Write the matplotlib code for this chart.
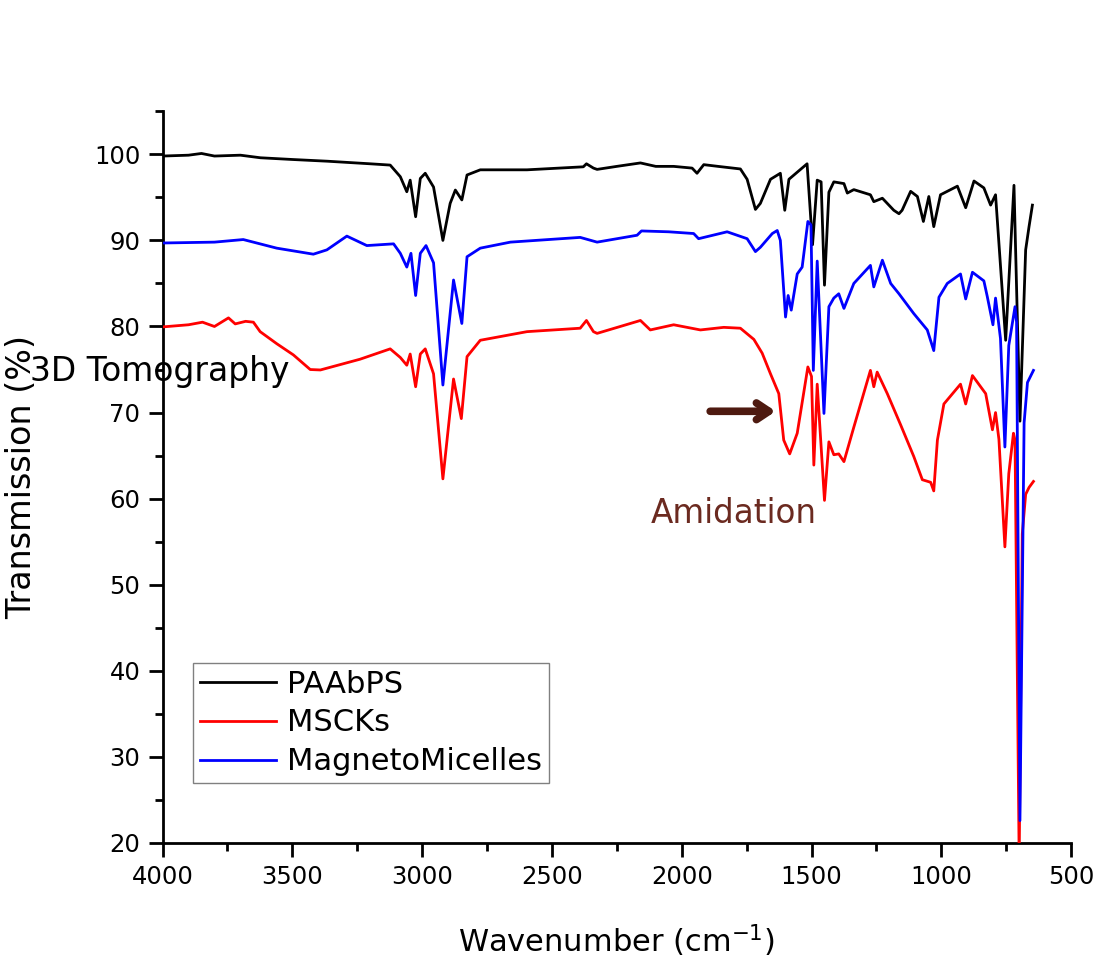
import matplotlib
matplotlib.use("Agg")
import matplotlib.pyplot as plt
from matplotlib.ticker import MultipleLocator

plt.rcParams['font.family'] = ['DejaVu Sans']

# ---- data ----
paabps_x = [4000, 3900, 3850, 3800, 3700, 3623, 3500, 3365, 3200, 3123, 3084, 3059, 3046, 3025,
            3007, 2988, 2956, 2920, 2892, 2872, 2847, 2827, 2776, 2596, 2379, 2367, 2340, 2326,
            2250, 2159, 2100, 2031, 1960, 1941, 1915, 1860, 1774, 1748, 1716, 1697, 1658, 1620,
            1603, 1587, 1517, 1496, 1478, 1463, 1450, 1433, 1414, 1375, 1362, 1337, 1273, 1260,
            1227, 1183, 1163, 1151, 1118, 1092, 1069, 1048, 1029, 1003, 938, 906, 874, 836, 810,
            791, 752, 720, 697, 675, 662, 649]
paabps_y = [99.8, 99.9, 100.1, 99.8, 99.9, 99.6, 99.4, 99.2, 98.9, 98.75, 97.4, 95.65, 97.0, 92.75,
            97.2, 97.8, 96.2, 90.0, 94.3, 95.85, 94.7, 97.6, 98.2, 98.2, 98.55, 98.9, 98.4, 98.25,
            98.6, 99.0, 98.6, 98.6, 98.4, 97.8, 98.8, 98.6, 98.3, 97.1, 93.6, 94.3, 97.1, 97.8,
            93.5, 97.1, 98.9, 89.5, 97.0, 96.8, 84.8, 95.6, 96.8, 96.6, 95.5, 95.9, 95.3, 94.5,
            94.9, 93.5, 93.1, 93.5, 95.7, 95.1, 92.2, 95.1, 91.6, 95.3, 96.3, 93.8, 96.9, 96.1, 94.1,
            95.3, 78.4, 96.4, 69.0, 88.9, 91.6, 94.1]

mscks_x = [4000, 3900, 3846, 3800, 3746, 3720, 3680, 3650, 3624, 3560, 3496, 3431, 3392, 3239,
           3123, 3084, 3059, 3046, 3025, 3007, 2988, 2956, 2920, 2879, 2849, 2827, 2776, 2596,
           2391, 2367, 2340, 2326, 2159, 2121, 2031, 1928, 1838, 1774, 1722, 1690, 1658, 1626,
           1607, 1584, 1555, 1514, 1500, 1491, 1478, 1450, 1433, 1414, 1395, 1375, 1337, 1273,
           1260, 1247, 1208, 1157, 1106, 1073, 1041, 1029, 1015, 990, 926, 906, 880, 829, 803,
           791, 778, 755, 740, 722, 716, 700, 688, 675, 662, 645]
mscks_y = [79.95, 80.2, 80.5, 80.0, 81.0, 80.3, 80.6, 80.5, 79.4, 78.0, 76.7, 75.0, 74.95, 76.2,
           77.4, 76.4, 75.5, 76.8, 73.0, 76.8, 77.4, 74.5, 62.3, 73.9, 69.3, 76.5, 78.4, 79.4,
           79.8, 80.7, 79.4, 79.2, 80.7, 79.6, 80.2, 79.6, 79.9, 79.8, 78.5, 76.9, 74.5, 72.2,
           66.8, 65.2, 67.6, 75.3, 74.2, 63.9, 73.3, 59.8, 66.6, 65.1, 65.2, 64.3, 68.3, 74.9,
           73.0, 74.7, 72.2, 68.6, 64.9, 62.2, 61.9, 60.9, 66.8, 71.0, 73.3, 71.0, 74.3, 72.2, 68.0,
           70.0, 66.9, 54.4, 62.9, 67.6, 66.8, 18.0, 55.9, 60.5, 61.3, 62.0]

magneto_x = [4000, 3800, 3689, 3560, 3419, 3367, 3290, 3213, 3110, 3084, 3059, 3043, 3025, 3007,
             2985, 2956, 2920, 2879, 2847, 2827, 2776, 2660, 2391, 2326, 2172, 2155, 2050, 1954,
             1935, 1825, 1748, 1716, 1697, 1651, 1632, 1620, 1600, 1590, 1578, 1555, 1536, 1514,
             1502, 1493, 1478, 1452, 1433, 1414, 1395, 1375, 1337, 1273, 1260, 1227, 1195, 1163,
             1106, 1054, 1029, 1009, 977, 926, 906, 880, 836, 823, 801, 791, 772, 755, 740, 716,
             710, 697, 681, 668, 645]
magneto_y = [89.7, 89.8, 90.1, 89.1, 88.4, 88.9, 90.5, 89.4, 89.6, 88.5, 86.9, 88.5, 83.6, 88.5,
             89.4, 87.4, 73.2, 85.4, 80.35, 88.1, 89.1, 89.8, 90.35, 89.8, 90.6, 91.1, 91.0, 90.8,
             90.2, 91.0, 90.2, 88.7, 89.2, 90.8, 91.15, 90.0, 81.1, 83.6, 81.9, 86.1, 86.9, 92.2,
             91.8, 74.9, 87.6, 69.9, 82.3, 83.3, 83.8, 82.1, 85.0, 87.1, 84.6, 87.7, 85.0, 83.8,
             81.5, 79.6, 77.2, 83.4, 85.0, 86.1, 83.2, 86.3, 85.3, 83.5, 80.2, 83.3, 78.6, 66.0, 77.8, 82.3,
             80.5, 22.6, 68.8, 73.5, 74.9]

series_labels = ["PAAbPS", "MSCKs", "MagnetoMicelles"]
x_ticks = [4000, 3500, 3000, 2500, 2000, 1500, 1000, 500]
y_ticks = [20, 30, 40, 50, 60, 70, 80, 90, 100]

# ---- figure ----
fig = plt.figure(figsize=(10.99, 9.61), dpi=100)
ax = fig.add_axes([0.1479, 0.1228, 0.8267, 0.7614])

ax.plot(paabps_x, paabps_y, color="black", lw=2, label=series_labels[0], zorder=2)
ax.plot(mscks_x, mscks_y, color="#ff0000", lw=2, label=series_labels[1], zorder=3)
ax.plot(magneto_x, magneto_y, color="#0000ff", lw=2, label=series_labels[2], zorder=4)

ax.set_xlim(4000, 500)
ax.set_ylim(20, 105)
ax.set_xticks(x_ticks)
ax.set_yticks(y_ticks)
ax.xaxis.set_minor_locator(MultipleLocator(250))
ax.yaxis.set_minor_locator(MultipleLocator(5))

for s in ["top", "right"]:
    ax.spines[s].set_visible(False)
for s in ["left", "bottom"]:
    ax.spines[s].set_linewidth(2)

ax.tick_params(which="major", direction="out", length=10, width=2, labelsize=17.5, pad=6)
ax.tick_params(which="minor", direction="out", length=6, width=2)

ax.set_xlabel("Wavenumber (cm$^{-1}$)", fontsize=22, labelpad=24)
ax.set_ylabel("Transmission (%)", fontsize=24)
ax.yaxis.set_label_coords(-0.137, 0.5)

leg = ax.legend(loc="lower left", bbox_to_anchor=(0.0336, 0.082), fontsize=22,
                frameon=True, fancybox=False, edgecolor="#808080", framealpha=1,
                handlelength=2.5, handletextpad=0.35, labelspacing=0.32,
                borderpad=0.22, borderaxespad=0)
leg.get_frame().set_linewidth(1.0)

ax.annotate("", xy=(1627, 70.15), xytext=(1901, 70.15),
            arrowprops=dict(arrowstyle="->,head_length=0.9,head_width=0.6",
                            color="#4e1a10", lw=5.5, capstyle="round", joinstyle="round"))
ax.text(2121, 58.3, "Amidation", color="#6b2a20", fontsize=23.5, ha="left", va="center")

fig.text(30 / 1099, 1 - 372 / 961, "3D Tomography", fontsize=23.7, ha="left", va="center")

fig.savefig("out.png", dpi=100, facecolor="white")
